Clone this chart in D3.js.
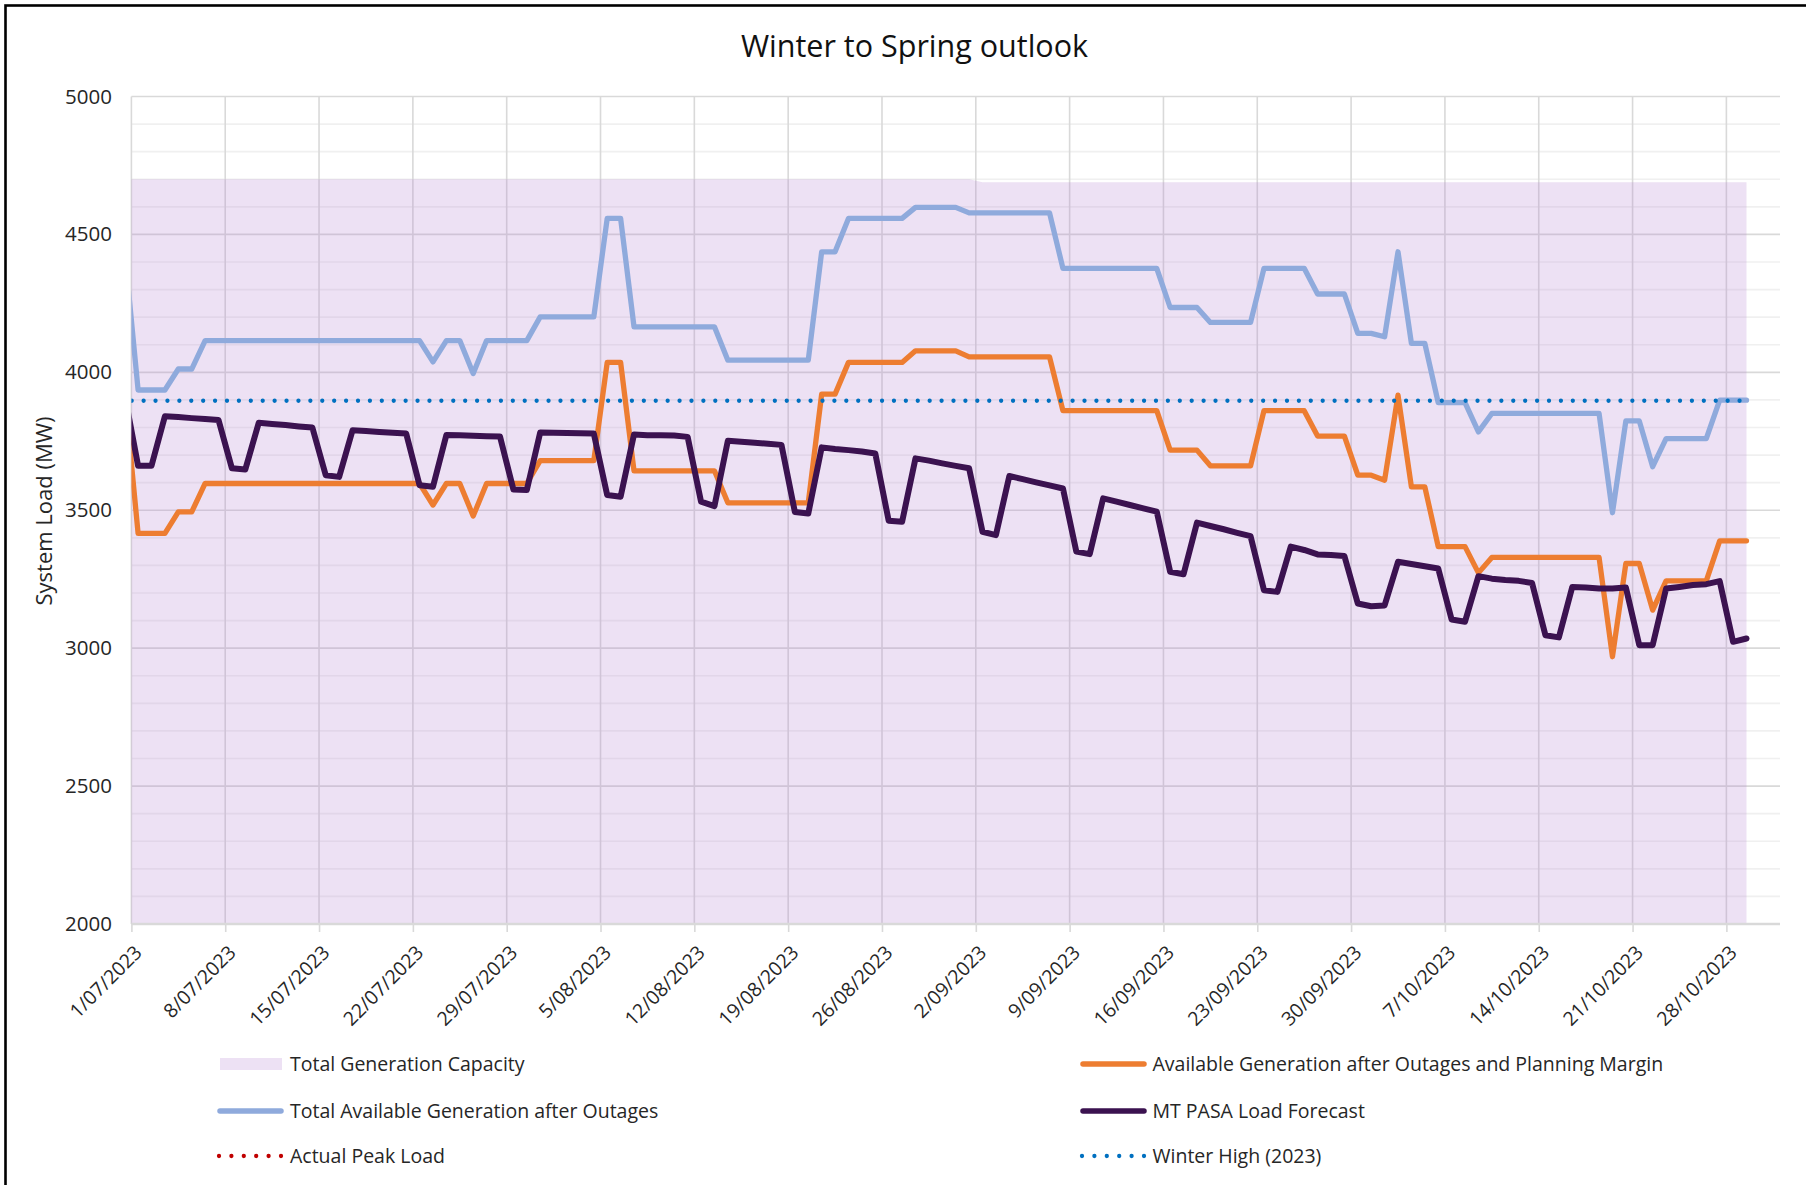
<!DOCTYPE html>
<html><head><meta charset="utf-8">
<script src="https://cdn.jsdelivr.net/npm/d3@7"></script>
<style>
html,body{margin:0;padding:0;background:#fff;}
svg{display:block;font-family:"Open Sans",sans-serif;}
</style></head><body>
<svg id="chart" width="1806" height="1185"></svg>
<script>
// ---------------- DATA ----------------
const firstDate = "30/06/2023";   // first daily value (clipped at the axis start)
const seriesNames = [
  "Total Generation Capacity",
  "Available Generation after Outages and Planning Margin",
  "Total Available Generation after Outages",
  "MT PASA Load Forecast",
  "Actual Peak Load",
  "Winter High (2023)"
];
const totalCapacity = [
 4700,
 4700,4700,4700,4700,4700,4700,4700,
 4700,4700,4700,4700,4700,4700,4700,
 4700,4700,4700,4700,4700,4700,4700,
 4700,4700,4700,4700,4700,4700,4700,
 4700,4700,4700,4700,4700,4700,4700,
 4700,4700,4700,4700,4700,4700,4700,
 4700,4700,4700,4700,4700,4700,4700,
 4700,4700,4700,4700,4700,4700,4700,
 4700,4700,4700,4700,4700,4700,4700,
 4689,4689,4689,4689,4689,4689,4689,
 4689,4689,4689,4689,4689,4689,4689,
 4689,4689,4689,4689,4689,4689,4689,
 4689,4689,4689,4689,4689,4689,4689,
 4689,4689,4689,4689,4689,4689,4689,
 4689,4689,4689,4689,4689,4689,4689,
 4689,4689,4689,4689,4689,4689,4689,
 4689,4689,4689,4689,4689,4689,4689,
 4689,4689
];
const availAfterOutages = [
 4440,
 3936,3936,3936,4012,4012,4115,4115,
 4115,4115,4115,4115,4115,4115,4115,
 4115,4115,4115,4115,4115,4115,4115,
 4115,4038,4115,4115,3996,4115,4115,
 4115,4115,4201,4201,4201,4201,4201,
 4558,4558,4165,4165,4165,4165,4165,
 4165,4165,4044,4044,4044,4044,4044,
 4044,4044,4437,4437,4558,4558,4558,
 4558,4558,4598,4598,4598,4598,4578,
 4578,4578,4578,4578,4578,4578,4377,
 4377,4377,4377,4377,4377,4377,4377,
 4235,4235,4235,4181,4181,4181,4181,
 4377,4377,4377,4377,4284,4284,4284,
 4141,4141,4129,4437,4105,4105,3890,
 3890,3890,3784,3851,3851,3851,3851,
 3851,3851,3851,3851,3851,3491,3824,
 3824,3658,3760,3760,3760,3760,3899,
 3899,3899
];
const availAfterMargin = [
 3924,
 3416,3416,3416,3494,3494,3597,3597,
 3597,3597,3597,3597,3597,3597,3597,
 3597,3597,3597,3597,3597,3597,3597,
 3597,3519,3597,3597,3479,3597,3597,
 3597,3597,3680,3680,3680,3680,3680,
 4036,4036,3643,3643,3643,3643,3643,
 3643,3643,3527,3527,3527,3527,3527,
 3527,3527,3921,3921,4036,4036,4036,
 4036,4036,4078,4078,4078,4078,4056,
 4056,4056,4056,4056,4056,4056,3861,
 3861,3861,3861,3861,3861,3861,3861,
 3718,3718,3718,3661,3661,3661,3661,
 3861,3861,3861,3861,3769,3769,3769,
 3627,3627,3609,3917,3585,3585,3368,
 3368,3368,3273,3329,3329,3329,3329,
 3329,3329,3329,3329,3329,2969,3307,
 3307,3138,3244,3244,3244,3244,3389,
 3389,3389
];
const loadForecast = [
 3919,
 3661,3661,3841,3838,3834,3831,3827,
 3652,3648,3817,3813,3809,3804,3800,
 3627,3621,3790,3787,3784,3781,3778,
 3591,3585,3773,3772,3770,3768,3767,
 3575,3573,3782,3781,3780,3779,3778,
 3555,3549,3775,3772,3772,3771,3766,
 3531,3515,3752,3748,3745,3741,3737,
 3494,3488,3728,3722,3718,3713,3706,
 3462,3458,3688,3680,3670,3661,3652,
 3422,3410,3624,3613,3601,3590,3579,
 3350,3341,3543,3531,3519,3507,3495,
 3277,3268,3455,3443,3431,3418,3406,
 3210,3204,3368,3356,3340,3338,3334,
 3162,3152,3155,3313,3305,3297,3289,
 3104,3096,3261,3252,3247,3244,3236,
 3047,3039,3222,3220,3216,3216,3220,
 3011,3011,3216,3222,3229,3232,3243,
 3023,3035
];
const actualPeakLoad = [];          // no values plotted yet
const winterHigh2023 = 3897;
const xTickLabels = ["1/07/2023","8/07/2023","15/07/2023","22/07/2023","29/07/2023",
 "5/08/2023","12/08/2023","19/08/2023","26/08/2023","2/09/2023","9/09/2023",
 "16/09/2023","23/09/2023","30/09/2023","7/10/2023","14/10/2023","21/10/2023","28/10/2023"];
const yTickValues = [2000,2500,3000,3500,4000,4500,5000];

// ---------------- LAYOUT ----------------
const L = 131.4, R = 1780, T = 96.5, B = 924;
const colors = {
  area: "rgb(183,135,211)", orange: "#ED7D31", blue: "#8FAADC",
  purple: "#3B1250", red: "#C00000", dot: "#0070C0"
};
const parse = d3.utcParse("%d/%m/%Y");
const start = parse(firstDate);
const dates = availAfterOutages.map((_, k) => d3.utcDay.offset(start, k));
const tickDates = xTickLabels.map(parse);

const x = d3.scaleUtc().domain([parse("1/07/2023"), parse("1/11/2023")]).range([L, R]);
const y = d3.scaleLinear().domain([2000, 5000]).range([B, T]);
const xc = d => x(d3.utcHour.offset(d, 12));

const svg = d3.select("#chart");
svg.append("rect").attr("width",1806).attr("height",1185).attr("fill","#fff");
// outer border
svg.append("rect").attr("x",5.5).attr("y",5.5).attr("width",1806).attr("height",1190)
  .attr("fill","none").attr("stroke","#000").attr("stroke-width",2.6);

svg.append("defs").append("clipPath").attr("id","plotclip")
  .append("rect").attr("x",L).attr("y",T-10).attr("width",R-L).attr("height",B-T+10);

// title
svg.append("text").attr("x",914.5).attr("y",57).attr("text-anchor","middle")
  .attr("font-size",30.5).attr("fill","#111").text("Winter to Spring outlook");

// gridlines
const grid = svg.append("g");
const minor = d3.range(2100, 5000, 100).filter(v => v % 500 !== 0);
grid.selectAll(".mn").data(minor).join("line")
  .attr("x1",L).attr("x2",R).attr("y1",d=>y(d)).attr("y2",d=>y(d))
  .attr("stroke","#F0F0F0").attr("stroke-width",1.6);
grid.selectAll(".mj").data(yTickValues.filter(v=>v>2000)).join("line")
  .attr("x1",L).attr("x2",R).attr("y1",d=>y(d)).attr("y2",d=>y(d))
  .attr("stroke","#D9D9D9").attr("stroke-width",1.6);
grid.selectAll(".vg").data(tickDates).join("line")
  .attr("x1",d=>x(d)).attr("x2",d=>x(d)).attr("y1",T).attr("y2",B)
  .attr("stroke","#D9D9D9").attr("stroke-width",1.6);

// area (total generation capacity)
const plot = svg.append("g").attr("clip-path","url(#plotclip)");
const area = d3.area().x((d,i)=>xc(dates[i])).y0(y(2000)).y1(d=>y(d));
plot.append("path").datum(totalCapacity).attr("d",area)
  .attr("fill",colors.area).attr("fill-opacity",0.25);

// x axis
const xAxis = d3.axisBottom(x).tickValues(tickDates).tickSize(8).tickFormat(d3.utcFormat("%-d/%m/%Y"));
const gx = svg.append("g").attr("transform",`translate(0,${B})`).call(xAxis);
gx.select(".domain").attr("stroke","#D9D9D9").attr("stroke-width",2.6).attr("d",`M${L},0H${R}`);
gx.selectAll(".tick line").attr("stroke","#D9D9D9").attr("stroke-width",1.6);
gx.selectAll(".tick text")
  .attr("font-family","Open Sans").attr("font-size",19.5).attr("fill","#262626")
  .attr("text-anchor","end").attr("x",0).attr("y",0).attr("dy","0.35em")
  .attr("transform","translate(6.5,25) rotate(-45)");

// y axis
const yAxis = d3.axisLeft(y).tickValues(yTickValues).tickSize(0).tickPadding(0).tickFormat(d3.format("d"));
const gy = svg.append("g").attr("transform",`translate(${L},0)`).call(yAxis);
gy.select(".domain").remove();
gy.selectAll(".tick text").attr("font-family","Open Sans").attr("font-size",20.5)
  .attr("fill","#262626").attr("x",-19.5);

svg.append("text").attr("transform","translate(44.6,511) rotate(-90)")
  .attr("text-anchor","middle").attr("dy","0.35em").attr("font-size",22).attr("fill","#262626")
  .text("System Load (MW)");

// lines
const line = d3.line().x((d,i)=>xc(dates[i])).y(d=>y(d));
function drawLine(vals, color, w){
  plot.append("path").datum(vals).attr("d",line).attr("fill","none")
    .attr("stroke",color).attr("stroke-width",w)
    .attr("stroke-linejoin","round").attr("stroke-linecap","round");
}
drawLine(availAfterMargin, colors.orange, 5.3);
drawLine(availAfterOutages, colors.blue, 5.3);
drawLine(loadForecast, colors.purple, 6);
if (actualPeakLoad.length) drawLine(actualPeakLoad, colors.red, 4);
// winter high dotted
plot.append("path")
  .datum([dates[0], dates[dates.length-1]])
  .attr("d", d3.line().x(d=>xc(d)).y(()=>y(winterHigh2023)))
  .attr("fill","none").attr("stroke",colors.dot).attr("stroke-width",4.3)
  .attr("stroke-linecap","round").attr("stroke-dasharray","0,11.91").attr("stroke-dashoffset",4.9);

// legend
const leg = svg.append("g").attr("font-size",19.5).attr("fill","#262626");
const items = [
  {name:seriesNames[0], type:"rect", c:colors.area, x:220, y:1064},
  {name:seriesNames[1], type:"line", c:colors.orange, x:1083, y:1064},
  {name:seriesNames[2], type:"line", c:colors.blue, x:220, y:1111},
  {name:seriesNames[3], type:"line", c:colors.purple, x:1083, y:1111},
  {name:seriesNames[4], type:"dot", c:colors.red, x:220, y:1156},
  {name:seriesNames[5], type:"dot", c:colors.dot, x:1083, y:1156}
];
items.forEach(it=>{
  if(it.type==="rect"){
    leg.append("rect").attr("x",it.x).attr("y",it.y-6).attr("width",62).attr("height",12)
      .attr("fill",it.c).attr("fill-opacity",0.25);
  } else if(it.type==="line"){
    leg.append("line").attr("x1",it.x).attr("x2",it.x+61).attr("y1",it.y).attr("y2",it.y)
      .attr("stroke",it.c).attr("stroke-width",5.5).attr("stroke-linecap","round");
  } else {
    leg.append("line").attr("x1",it.x-1).attr("x2",it.x+62).attr("y1",it.y).attr("y2",it.y)
      .attr("stroke",it.c).attr("stroke-width",4.3).attr("stroke-linecap","round")
      .attr("stroke-dasharray","0,12.4");
  }
  const tx = it.x < 500 ? 290 : 1152.5;
  leg.append("text").attr("x",tx).attr("y",it.y).attr("dy","0.35em").text(it.name);
});
</script>
</body></html>
